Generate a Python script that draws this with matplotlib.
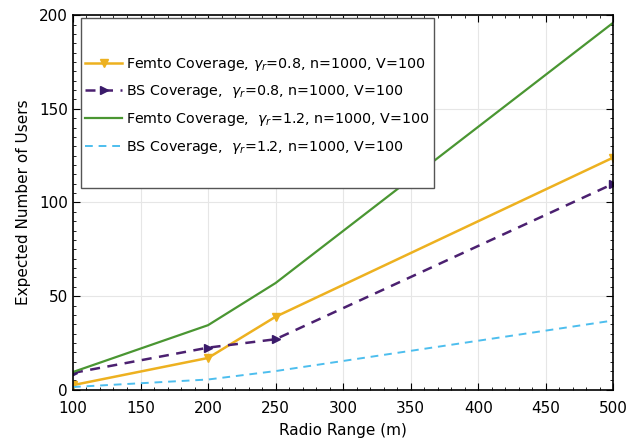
import matplotlib.pyplot as plt
from matplotlib.patches import Rectangle
from matplotlib.ticker import MultipleLocator

# radio range (m)
radio_range = [100, 200, 250, 500]

femto_08 = [2.5, 17, 39, 124]
bs_08 = [9, 22.5, 27, 110]
femto_12 = [9.5, 34.5, 57, 196]
bs_12 = [1.5, 5.5, 10, 37]

labels = [
    r"Femto Coverage, $\gamma_r$=0.8, n=1000, V=100",
    r"BS Coverage,  $\gamma_r$=0.8, n=1000, V=100",
    r"Femto Coverage,  $\gamma_r$=1.2, n=1000, V=100",
    r"BS Coverage,  $\gamma_r$=1.2, n=1000, V=100",
]

fig = plt.figure(figsize=(6.29, 4.46), dpi=100)
ax = fig.add_axes([0.116, 0.126, 0.859, 0.84])

ax.plot(radio_range, femto_08, color="#EDB120", lw=1.8, marker="v", ms=6, label=labels[0])
ax.plot(radio_range, bs_08, color="#4B2070", lw=1.8, ls=(0, (4, 3)), marker=">", ms=6,
        markerfacecolor="#3A1A6A", markeredgecolor="#3A1A6A", label=labels[1])
ax.plot(radio_range, femto_12, color="#4A9632", lw=1.6, label=labels[2])
ax.plot(radio_range, bs_12, color="#4DBEEE", lw=1.4, ls=(0, (4, 3)), label=labels[3])

ax.set_xlim(100, 500)
ax.set_ylim(0, 200)
ax.set_xticks(range(100, 501, 50))
ax.set_yticks(range(0, 201, 50))
ax.xaxis.set_minor_locator(MultipleLocator(10))
ax.yaxis.set_minor_locator(MultipleLocator(5))
ax.tick_params(which="both", direction="in", top=True, right=True, labelsize=11)
ax.tick_params(which="major", length=5)
ax.tick_params(which="minor", length=2.5)
ax.tick_params(axis="x", pad=8)
ax.grid(True, color="#e6e6e6", lw=0.8)
ax.set_axisbelow(True)
for s in ax.spines.values():
    s.set_linewidth(1.2)

ax.set_xlabel("Radio Range (m)", fontsize=11, labelpad=5)
ax.set_ylabel("Expected Number of Users", fontsize=11, labelpad=6)

# legend frame drawn separately (tall box with empty space above and below)
ax.add_patch(Rectangle((0.015, 0.539), 0.653, 0.453, transform=ax.transAxes,
                       facecolor="white", edgecolor="#555555", lw=1.0, zorder=4))
leg = ax.legend(loc="center left", bbox_to_anchor=(0.017, 0.758), fontsize=10.3,
                frameon=False, handlelength=2.6, handletextpad=0.3,
                labelspacing=0.75, borderpad=0.2, borderaxespad=0.0)
leg.set_zorder(5)

fig.savefig("out.png", dpi=100)
